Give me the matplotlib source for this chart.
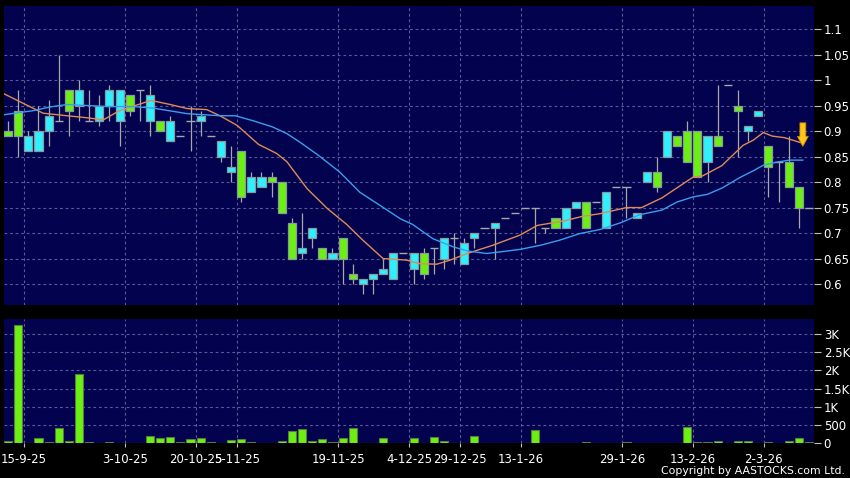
import matplotlib
matplotlib.use("Agg")
import matplotlib.pyplot as plt
import numpy as np

# ---------------- data ----------------
opens = [0.90, 0.94, 0.86, 0.86, 0.90, 0.92, 0.98, 0.95, 0.92, 0.92,
         0.95, 0.92, 0.97, 0.98, 0.92, 0.92, 0.88, 0.89, 0.92, 0.92,
         0.89, 0.85, 0.82, 0.86, 0.78, 0.79, 0.81, 0.80, 0.72, 0.66,
         0.69, 0.67, 0.65, 0.69, 0.62, 0.60, 0.61, 0.62, 0.61, 0.66,
         0.63, 0.66, 0.67, 0.65, 0.69, 0.64, 0.69, 0.71, 0.71, 0.73,
         0.74, 0.75, 0.75, 0.71, 0.73, 0.71, 0.75, 0.76, 0.76, 0.71,
         0.79, 0.79, 0.73, 0.80, 0.82, 0.85, 0.89, 0.90, 0.90, 0.84,
         0.89, 0.99, 0.95, 0.90, 0.93, 0.87, 0.84, 0.84, 0.79, 0.75]
highs = [0.92, 0.98, 0.90, 0.95, 0.96, 1.05, 0.98, 1.00, 0.98, 0.97,
         0.99, 0.98, 0.97, 0.98, 0.99, 0.92, 0.93, 0.89, 0.95, 0.94,
         0.89, 0.88, 0.87, 0.86, 0.82, 0.82, 0.82, 0.80, 0.73, 0.74,
         0.71, 0.67, 0.67, 0.69, 0.64, 0.61, 0.62, 0.65, 0.66, 0.66,
         0.66, 0.67, 0.67, 0.69, 0.70, 0.69, 0.70, 0.71, 0.72, 0.73,
         0.74, 0.75, 0.75, 0.71, 0.73, 0.75, 0.76, 0.76, 0.76, 0.78,
         0.79, 0.79, 0.74, 0.82, 0.85, 0.90, 0.89, 0.92, 0.90, 0.89,
         0.99, 0.99, 0.98, 0.91, 0.94, 0.87, 0.84, 0.89, 0.79, 0.75]
lows = [0.89, 0.85, 0.86, 0.86, 0.87, 0.92, 0.89, 0.92, 0.92, 0.91,
        0.92, 0.87, 0.93, 0.92, 0.89, 0.90, 0.88, 0.89, 0.86, 0.89,
        0.89, 0.84, 0.80, 0.76, 0.78, 0.79, 0.77, 0.74, 0.65, 0.65,
        0.67, 0.65, 0.65, 0.60, 0.60, 0.58, 0.58, 0.62, 0.61, 0.66,
        0.60, 0.61, 0.62, 0.63, 0.64, 0.64, 0.67, 0.71, 0.65, 0.73,
        0.74, 0.75, 0.68, 0.70, 0.71, 0.71, 0.75, 0.71, 0.76, 0.71,
        0.79, 0.73, 0.73, 0.80, 0.78, 0.85, 0.87, 0.84, 0.81, 0.80,
        0.87, 0.99, 0.85, 0.88, 0.93, 0.77, 0.76, 0.79, 0.71, 0.75]
closes = [0.89, 0.89, 0.89, 0.90, 0.93, 0.92, 0.94, 0.98, 0.92, 0.95,
          0.98, 0.98, 0.94, 0.98, 0.97, 0.90, 0.92, 0.89, 0.92, 0.93,
          0.89, 0.88, 0.83, 0.77, 0.81, 0.81, 0.80, 0.74, 0.65, 0.67,
          0.71, 0.65, 0.66, 0.65, 0.61, 0.61, 0.62, 0.63, 0.66, 0.66,
          0.66, 0.62, 0.67, 0.69, 0.69, 0.68, 0.70, 0.71, 0.72, 0.73,
          0.74, 0.75, 0.75, 0.71, 0.71, 0.75, 0.76, 0.71, 0.76, 0.78,
          0.79, 0.79, 0.74, 0.82, 0.79, 0.90, 0.87, 0.84, 0.81, 0.89,
          0.87, 0.99, 0.94, 0.91, 0.94, 0.83, 0.84, 0.79, 0.75, 0.75]
volumes = [50, 3250, 10, 137, 27, 411, 55, 1900, 27, 15,
           30, 10, 4, 0, 200, 137, 174, 27, 118, 140,
           44, 0, 90, 118, 27, 3, 3, 71, 345, 383,
           71, 128, 27, 146, 411, 10, 10, 155, 0, 0,
           155, 20, 174, 71, 5, 3, 200, 0, 5, 0,
           0, 0, 365, 0, 3, 3, 3, 27, 0, 3,
           0, 27, 3, 5, 5, 3, 5, 438, 27, 27,
           55, 0, 55, 55, 3, 30, 0, 63, 146, 30]

# moving averages (candle index, value)
ma_short_x = [-0.4, 3.45, 5.8, 7.8, 9.4, 11.0, 14.1, 16.0, 17.7, 19.6, 20.9,
              22.6, 24.7, 26.5, 27.5, 29.5, 31.5, 33.4, 35.0, 37.0, 39.3,
              40.6, 42.3, 43.6, 45.3, 47.8, 50.5, 52.2, 53.7, 55.1, 56.7,
              58.4, 61.0, 62.5, 64.5, 67.6, 68.5, 70.4, 72.5, 73.5, 74.5,
              75.4, 76.6, 78.4]
ma_short = [0.973, 0.935, 0.930, 0.926, 0.922, 0.940, 0.960, 0.952, 0.944,
            0.942, 0.930, 0.911, 0.874, 0.856, 0.840, 0.787, 0.748, 0.717,
            0.686, 0.650, 0.647, 0.640, 0.639, 0.647, 0.660, 0.676, 0.696,
            0.715, 0.720, 0.725, 0.733, 0.738, 0.750, 0.750, 0.769, 0.810,
            0.812, 0.832, 0.872, 0.882, 0.897, 0.890, 0.887, 0.876]
ma_long_x = [-0.4, 2.5, 4.1, 5.8, 7.8, 9.8, 12.3, 14.3, 17.7, 20.9, 22.4,
             24.2, 26.1, 27.5, 28.8, 30.5, 32.7, 34.7, 37.4, 38.7, 39.9,
             41.9, 43.9, 45.3, 47.2, 48.5, 50.5, 52.5, 54.4, 56.4, 58.4,
             60.4, 62.3, 64.5, 66.0, 67.6, 69.0, 70.5, 72.2, 73.5, 74.5,
             75.8, 77.1, 78.4]
ma_long = [0.932, 0.940, 0.947, 0.952, 0.950, 0.948, 0.948, 0.945, 0.934,
           0.930, 0.930, 0.920, 0.908, 0.895, 0.878, 0.854, 0.820, 0.780,
           0.745, 0.728, 0.717, 0.689, 0.673, 0.665, 0.660, 0.663, 0.668,
           0.676, 0.686, 0.699, 0.707, 0.720, 0.736, 0.745, 0.761, 0.771,
           0.776, 0.789, 0.809, 0.822, 0.833, 0.839, 0.843, 0.843]

tick_idx = [1, 11, 18, 22, 32, 39, 44, 50, 60, 67, 74]
tick_labels = ["15-9-25", "3-10-25", "20-10-25", "5-11-25", "19-11-25",
               "4-12-25", "29-12-25", "13-1-26", "29-1-26", "13-2-26", "2-3-26"]
price_ticks = [0.6, 0.65, 0.7, 0.75, 0.8, 0.85, 0.9, 0.95, 1.0, 1.05, 1.1]
price_tick_labels = ["0.6", "0.65", "0.7", "0.75", "0.8", "0.85", "0.9",
                     "0.95", "1", "1.05", "1.1"]
vol_ticks = [0, 500, 1000, 1500, 2000, 2500, 3000]
vol_tick_labels = ["0", "500", "1K", "1.5K", "2K", "2.5K", "3K"]

# ---------------- style ----------------
BG = "#000000"
PANEL = "#02024e"
GRID = "#5a5a96"
UP = "#2ef0ff"
DOWN = "#6cf014"
EDGE = "#8a9a9a"
WICK = "#a8a8a8"
TXT = "#ffffff"

fig = plt.figure(figsize=(8.5, 4.78), dpi=100, facecolor=BG)
W, H = 850.0, 478.0
ax = fig.add_axes([4 / W, 1 - 305 / H, 810 / W, (305 - 5.7) / H])
axv = fig.add_axes([4 / W, 1 - 443.3 / H, 810 / W, (443.3 - 319.3) / H], sharex=ax)

for a in (ax, axv):
    a.set_facecolor(PANEL)
    for s in a.spines.values():
        s.set_visible(False)

x = np.arange(len(opens))
o = np.array(opens); c = np.array(closes); h = np.array(highs); l = np.array(lows)
bw = 0.8

# wicks
ax.vlines(x, l, h, color=WICK, lw=0.9, zorder=2)
# bodies
flat = np.isclose(o, c)
up = (c > o) & ~flat
dn = (c < o) & ~flat
ax.bar(x[up], (c - o)[up], bottom=o[up], width=bw, color=UP, edgecolor=EDGE,
       lw=0.9, zorder=3)
ax.bar(x[dn], (o - c)[dn], bottom=c[dn], width=bw, color=DOWN, edgecolor=EDGE,
       lw=0.9, zorder=3)
ax.hlines(c[flat], x[flat] - bw / 2, x[flat] + bw / 2, color=WICK, lw=1.0, zorder=3)

# moving averages
ax.plot(ma_short_x, ma_short, color="#e08a58", lw=1.0, zorder=4)
ax.plot(ma_long_x, ma_long, color="#3a9ef0", lw=1.0, zorder=4)

# arrow marker
ax.annotate("", xy=(78.4, 0.870), xytext=(78.4, 0.916),
            arrowprops=dict(arrowstyle="simple,head_width=0.78,head_length=0.72,tail_width=0.42",
                            mutation_scale=10, fc="#ffc61a", ec="#d08a00", lw=0.6,
                            shrinkA=0, shrinkB=0),
            zorder=6)

# volume
axv.bar(x, volumes, width=bw, color=DOWN, edgecolor="#5a7a40", lw=0.8, zorder=3)

# axes limits
ax.set_xlim(-0.4, 79.5)
ax.set_ylim(0.559, 1.1457)
axv.set_ylim(0, 3400)

grid_kw = dict(color=GRID, lw=0.8, ls=(0, (2.5, 2.5)))
gx = [t + 0.55 for t in tick_idx]
for a in (ax, axv):
    for g in gx:
        a.axvline(g, zorder=1, **grid_kw)
for p in price_ticks:
    ax.axhline(p, zorder=1, **grid_kw)
for v in vol_ticks[1:]:
    axv.axhline(v, zorder=1, **grid_kw)

# ticks
ax.yaxis.tick_right()
ax.set_yticks(price_ticks)
ax.set_yticklabels(price_tick_labels)
axv.yaxis.tick_right()
axv.set_yticks(vol_ticks)
axv.set_yticklabels(vol_tick_labels)
for a in (ax, axv):
    a.tick_params(axis="y", colors=TXT, length=5, width=0.8, pad=2, labelsize=8.5,
                  labelcolor=TXT, color="#c0c0c0")
ax.tick_params(axis="x", bottom=False, labelbottom=False)
axv.set_xticks(gx)
axv.set_xticklabels(tick_labels)
axv.tick_params(axis="x", colors=TXT, length=3, width=0.8, pad=4, labelsize=8.5,
                labelcolor=TXT, color="#c0c0c0")

fig.text(845 / W, 1 - 471 / H, "Copyright by AASTOCKS.com Ltd.", color=TXT,
         fontsize=7.8, ha="right", va="center")

fig.savefig("out.png", dpi=100, facecolor=BG)
